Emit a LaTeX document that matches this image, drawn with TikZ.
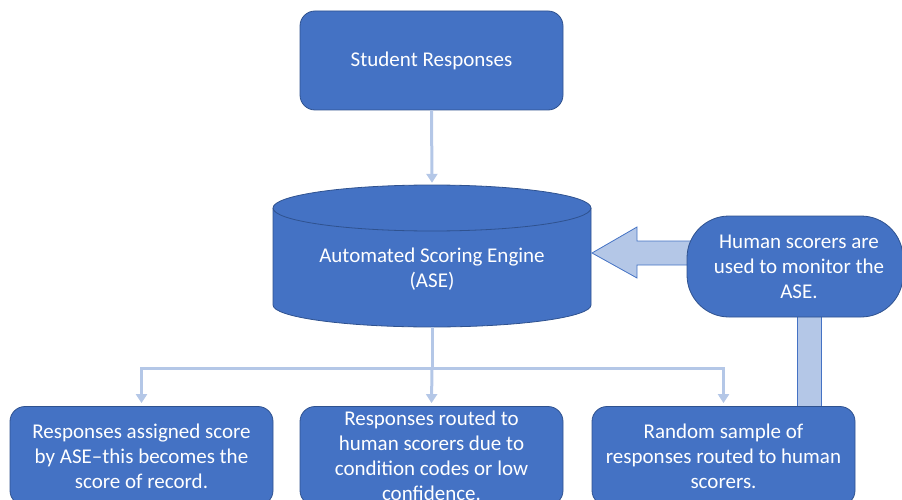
\documentclass[tikz,border=0pt]{standalone}
\usepackage{fontspec}
\setmainfont{Carlito}
\usetikzlibrary{arrows.meta}
\definecolor{fillblue}{HTML}{4472C4}
\definecolor{edgeblue}{HTML}{2F528F}
\definecolor{lightblue}{HTML}{B4C7E7}
\tikzset{
  txt/.style={font=\fontsize{21}{25}\selectfont, text=white, align=center},
  box/.style={txt, draw=edgeblue, line width=0.8pt, fill=fillblue, rounded corners=15pt,
    minimum width=263pt, minimum height=99pt, inner sep=0pt},
  conn/.style={draw=lightblue, line width=3pt, -{Triangle[width=11pt,length=9pt]}},
  barshape/.style={draw=fillblue, line width=0.8pt, fill=lightblue},
}
\begin{document}
\begin{tikzpicture}[x=1pt,y=-1pt]
\useasboundingbox (0,0) rectangle (902,500);
\clip (0,0) rectangle (902,500);
% cylinder body
\fill[fillblue] (273,208) -- (273,305) arc[start angle=180,end angle=0,x radius=159,y radius=22] -- (591,208) -- cycle;
\draw[edgeblue, line width=0.8pt] (273,208) -- (273,305) arc[start angle=180,end angle=0,x radius=159,y radius=22] -- (591,208);
\draw[edgeblue, line width=0.8pt, fill=fillblue] (432,208) ellipse[x radius=159, y radius=23];
\node[minimum width=318pt, minimum height=142pt, inner sep=0pt] (ase) at (432,256) {};
\node[txt] (asetext) at (432,269) {Automated Scoring Engine\\(ASE)};
% vertical bar from monitor box to random sample box
\coordinate (bartop) at (809,300);
\coordinate (barbot) at (809,410);
\path[barshape] ([xshift=-12pt]bartop) rectangle ([xshift=12pt]barbot);
% block arrow to ASE
\coordinate (tip) at (592,253);
\path[barshape] (tip) -- ++(45,-26) -- ++(0,14) -- ++(70,0) -- ++(0,24) -- ++(-70,0) -- ++(0,13) -- cycle;
% boxes
\node[box] (sr) at (431.5,60.5) {\raisebox{-3pt}{Student Responses}};
\node[box, rounded corners=42pt, minimum width=216pt, minimum height=101pt] (mon) at (795,266.5) {\hspace*{8pt}Human scorers are\\\hspace*{8pt}used to monitor the\\\hspace*{8pt}ASE.};
\node[box] (b1) at (141.5,456) {Responses assigned score\\by ASE\textendash this becomes the\\score of record.};
\node[box] (b2) at (431.5,456) {Responses routed to\\human scorers due to\\condition codes or low\\confidence.};
\node[box] (b3) at (723.5,456) {Random sample of\\responses routed to human\\scorers.};
% connectors
\draw[conn] (sr.south) -- ([yshift=2pt]ase.north);
\coordinate (junc) at ([yshift=-41pt]ase.south);
\draw[draw=lightblue, line width=3pt] (ase.south) -- (junc);
\draw[conn] (junc) -| ([yshift=3pt]b1.north);
\draw[conn] (junc) -- ([yshift=3pt]b2.north);
\draw[conn] (junc) -| ([yshift=3pt]b3.north);
\end{tikzpicture}
\end{document}
